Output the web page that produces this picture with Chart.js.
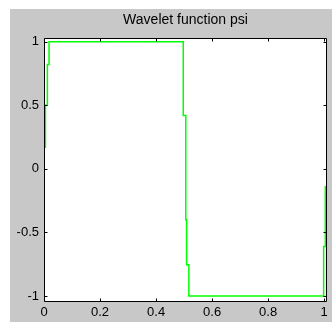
<!DOCTYPE html>
<html>
<head>
<meta charset="utf-8">
<script src="https://cdn.jsdelivr.net/npm/chart.js@4.4.1/dist/chart.umd.min.js"></script>
<style>
  body { margin: 0; background: #fff; }
  canvas { display: block; }
</style>
</head>
<body>
<canvas id="psi" width="332" height="322"></canvas>
<script>
// wavelet psi samples
const psiX = [0, 0, 0.005, 0.005, 0.012, 0.012, 0.018, 0.018, 0.497, 0.497, 0.506, 0.506, 0.509, 0.509, 0.517, 0.517, 0.995, 0.998, 0.998, 1.004, 1.004, 1.01, 1.01];
const psiY = [0, 0.17, 0.17, 0.5, 0.5, 0.82, 0.82, 1, 1, 0.42, 0.42, -0.40, -0.40, -0.755, -0.755, -1, -1, -1, -0.61, -0.61, -0.14, -0.14, 0];
const xTicks = [0, 0.2, 0.4, 0.6, 0.8, 1];
const yTicks = [-1, -0.5, 0, 0.5, 1];

const fontFamily = "'Liberation Sans', Arial, sans-serif";

const frame = {
    id: 'frame',
    beforeDraw(chart) {
        const { ctx, chartArea: a } = chart;
        ctx.save();
        ctx.fillStyle = '#fff';
        ctx.fillRect(0, 0, chart.width, chart.height);
        ctx.fillStyle = '#c8c8c8';
        ctx.fillRect(10, 9, chart.width - 10, chart.height - 9);
        ctx.fillStyle = '#fff';
        ctx.fillRect(a.left, a.top, a.right - a.left, a.bottom - a.top);
        ctx.restore();
    },
    afterDatasetsDraw(chart) {
        const { ctx, chartArea: a, scales } = chart;
        const L = a.left + 0.5, R = a.right - 0.5, T = a.top + 0.5, B = a.bottom - 0.5;
        const len = 3;
        ctx.save();
        ctx.strokeStyle = '#000';
        ctx.lineWidth = 1;
        ctx.beginPath();
        ctx.rect(L, T, R - L, B - T);
        xTicks.forEach(v => {
            const px = Math.round(scales.x.getPixelForValue(v)) + 0.5;
            ctx.moveTo(px, B); ctx.lineTo(px, B - len);
            ctx.moveTo(px, T); ctx.lineTo(px, T + len);
        });
        yTicks.forEach(v => {
            const py = Math.round(scales.y.getPixelForValue(v)) + 0.5;
            ctx.moveTo(L, py); ctx.lineTo(L + len, py);
            ctx.moveTo(R, py); ctx.lineTo(R - len, py);
        });
        ctx.stroke();
        ctx.restore();
    }
};

const chart = new Chart(document.getElementById('psi'), {
    type: 'line',
    data: {
        datasets: [{
            data: psiX.map((x, i) => ({ x: x, y: psiY[i] })),
            borderColor: '#00ff00',
            borderWidth: 1.5,
            pointRadius: 0,
            tension: 0,
            fill: false
        }]
    },
    options: {
        responsive: false,
        animation: false,
        devicePixelRatio: 1,
        layout: { padding: { top: 12, right: 5, bottom: 0, left: 0 } },
        plugins: {
            legend: { display: false },
            tooltip: { enabled: false },
            title: {
                display: true,
                text: 'Wavelet function psi',
                fullSize: false,
                color: '#000',
                font: { family: fontFamily, size: 14, weight: 'normal', lineHeight: 1.2 },
                padding: { top: 0, bottom: 9.2 }
            }
        },
        scales: {
            x: {
                type: 'linear',
                min: 0,
                max: 1.01,
                grid: { display: false, drawTicks: false },
                border: { display: false },
                afterBuildTicks: s => { s.ticks = xTicks.map(v => ({ value: v })); },
                afterFit: s => { s.height = 20; s.paddingLeft = 0; s.paddingRight = 0; },
                ticks: {
                    color: '#000',
                    padding: 3,
                    maxRotation: 0,
                    autoSkip: false,
                    font: { family: fontFamily, size: 13 },
                    callback: v => String(v)
                }
            },
            y: {
                type: 'linear',
                min: -1.047,
                max: 1.029,
                grid: { display: false, drawTicks: false },
                border: { display: false },
                afterBuildTicks: s => { s.ticks = yTicks.map(v => ({ value: v })); },
                afterFit: s => { s.width = 44; s.paddingTop = 0; s.paddingBottom = 0; },
                ticks: {
                    color: '#000',
                    padding: 5,
                    autoSkip: false,
                    font: { family: fontFamily, size: 13 },
                    callback: v => String(v)
                }
            }
        }
    },
    plugins: [frame]
});
</script>
</body>
</html>
